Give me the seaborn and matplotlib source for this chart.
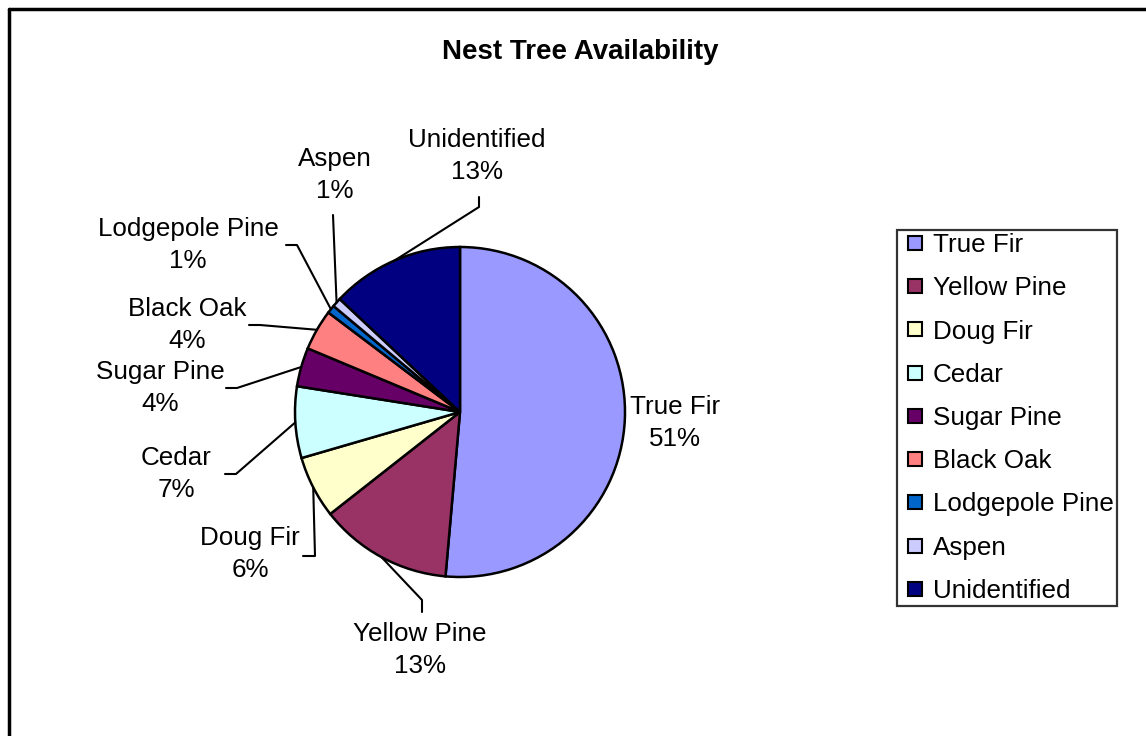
import matplotlib
matplotlib.use("Agg")
import matplotlib.pyplot as plt
from matplotlib.lines import Line2D
import numpy as np
import seaborn as sns

sns.set_theme(style="white")
plt.rcParams["font.family"] = ["Liberation Sans", "DejaVu Sans"]
plt.rcParams["text.color"] = "black"

# --- Data ---
species = ["True Fir", "Yellow Pine", "Doug Fir", "Cedar", "Sugar Pine",
           "Black Oak", "Lodgepole Pine", "Aspen", "Unidentified"]
share = [51.4, 13.0, 6.1, 7.0, 3.8, 4.0, 0.8, 0.9, 13.0]
hex_colors = ["#9999FF", "#993366", "#FFFFCC", "#CCFFFF", "#660066",
              "#FF8080", "#0066CC", "#CCCCFF", "#000080"]
palette = sns.color_palette(hex_colors)

# label layout in pixels: text centre, leader elbow, leader end (None = no leader)
label_pos = [(675, 423), (420, 650), (250, 554), (176, 474), (160, 388),
             (187, 325), (188, 245), (335, 175), (477, 156)]
leader_elbow = [None, (422, 600), (315, 556), (236, 474), (237, 388),
                (260, 325), (297, 245), (333, 215), (479, 207)]
leader_end = [None, (422, 612), (303, 556), (225, 474), (226, 388),
              (249, 325), (286, 245), None, (479, 197)]

W, H = 1146, 736
CX, CY, R = 460, 412, 165
FS = 18.7


def to_data(p):
    return (p[0] - CX) / R, (CY - p[1]) / R


fig = plt.figure(figsize=(W / 100, H / 100), dpi=100)
ax = fig.add_axes([(CX - R) / W, (H - CY - R) / H, 2 * R / W, 2 * R / H])

wedges, _ = ax.pie(share, colors=palette, startangle=90, counterclock=False,
                   radius=1, wedgeprops=dict(edgecolor="black", linewidth=1.8))
ax.set_xlim(-1, 1)
ax.set_ylim(-1, 1)
ax.axis("off")

for i, w in enumerate(wedges):
    tx, ty = to_data(label_pos[i])
    pct = int(round(share[i] / sum(share) * 100))
    ax.text(tx, ty, f"{species[i]}\n{pct}%", ha="center", va="center",
            fontsize=FS, linespacing=1.4, color="black")
    if leader_elbow[i] is None:
        continue
    mid = np.deg2rad((w.theta1 + w.theta2) / 2)
    pts = [(np.cos(mid), np.sin(mid)), to_data(leader_elbow[i])]
    if leader_end[i] is not None:
        pts.append(to_data(leader_end[i]))
    xs, ys = zip(*pts)
    ax.plot(xs, ys, color="black", linewidth=1.5, clip_on=False)

fig.text(580 / W, 1 - 52 / H, "Nest Tree Availability", ha="center", va="center",
         fontsize=20, fontweight="bold", color="black")

# square legend keys
handles = [Line2D([], [], linestyle="none", marker="s", markersize=10.5,
                  markerfacecolor=c, markeredgecolor="black", markeredgewidth=1.5)
           for c in palette]
leg = fig.legend(handles, species, loc="upper left",
                 bbox_to_anchor=(897 / W, 1 - 230 / H), borderaxespad=0,
                 fontsize=FS, frameon=True, fancybox=False,
                 handlelength=1.14, handletextpad=0.12,
                 labelspacing=0.74, borderpad=0.12)
leg.get_frame().set_edgecolor("black")
leg.get_frame().set_linewidth(1.6)
for t in leg.get_texts():
    t.set_color("black")

# outer chart frame (left and top edges visible)
fig.add_artist(Line2D([9 / W, 9 / W], [0, 1 - 9 / H], color="black", linewidth=2.5))
fig.add_artist(Line2D([9 / W, 1], [1 - 9 / H, 1 - 9 / H], color="black", linewidth=2.5))

fig.savefig("out.png", dpi=100, facecolor="white")
